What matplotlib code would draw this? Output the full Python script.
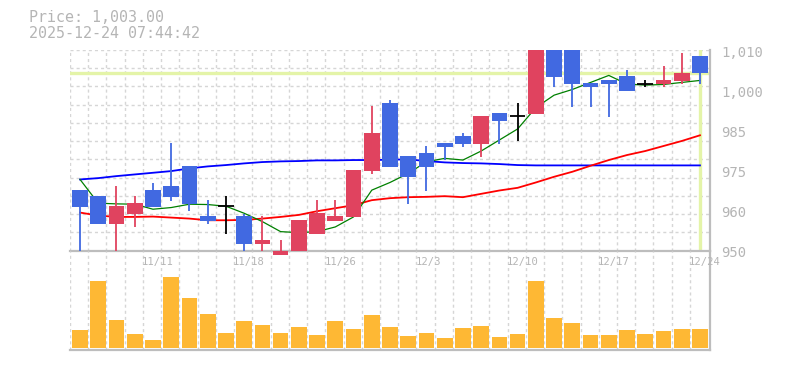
import matplotlib
matplotlib.use("Agg")
import matplotlib.pyplot as plt
import matplotlib.transforms as mtransforms
import numpy as np

# ---------------- data ----------------
dates = ['11/5', '11/6', '11/7', '11/10', '11/11', '11/12', '11/13', '11/14', '11/17', '11/18',
         '11/19', '11/20', '11/21', '11/25', '11/26', '11/27', '11/28', '12/1', '12/2', '12/3',
         '12/4', '12/5', '12/8', '12/9', '12/10', '12/11', '12/12', '12/15', '12/16', '12/17',
         '12/18', '12/19', '12/22', '12/23', '12/24']
opens = [968.1, 966.4, 958.1, 961.1, 968.1, 969.3, 975.3, 960.4, 963.3, 960.4,
         952.1, 948.8, 950.0, 955.1, 959.0, 960.1, 973.8, 994.2, 978.3, 979.2,
         982.2, 984.3, 981.9, 991.2, 990.2, 990.9, 1010.0, 1010.0, 1000.1, 1001.0,
         1002.2, 999.8, 999.8, 1000.7, 1008.2]
highs = [968.1, 966.4, 969.3, 966.4, 970.2, 982.2, 975.3, 965.2, 966.4, 961.1,
         960.4, 953.2, 959.3, 965.2, 965.2, 974.1, 993.3, 995.1, 978.3, 981.3,
         982.2, 985.2, 990.3, 991.2, 994.2, 1010.0, 1010.0, 1010.0, 1000.1, 1001.0,
         1004.0, 1001.0, 1005.2, 1009.1, 1008.2]
lows = [950.0, 958.1, 950.0, 957.2, 963.1, 965.0, 962.0, 958.1, 955.1, 950.0,
        950.0, 948.8, 950.0, 955.1, 959.0, 960.1, 972.9, 975.0, 964.0, 967.8,
        977.1, 981.1, 978.0, 981.9, 982.8, 990.9, 998.9, 993.0, 993.0, 990.0,
        997.7, 998.9, 998.9, 999.8, 999.8]
closes = [963.1, 958.1, 963.4, 964.3, 963.1, 966.1, 964.0, 959.0, 963.3, 952.1,
          953.2, 950.0, 959.3, 961.4, 960.4, 974.1, 985.2, 975.0, 972.0, 975.0,
          981.0, 981.9, 990.3, 988.8, 990.2, 1010.0, 1001.9, 999.8, 998.9, 999.8,
          997.7, 999.8, 1001.0, 1003.1, 1003.0]
ma_short = [971.3, 964.2, 964.0, 963.9, 962.4, 962.9, 963.9, 963.8, 963.3, 961.2,
            958.7, 955.7, 955.4, 955.7, 957.1, 960.1, 968.1, 970.4, 973.1, 976.6,
            977.6, 977.1, 979.8, 983.1, 986.4, 992.8, 996.5, 998.2, 1000.3, 1002.4,
            999.8, 999.5, 999.7, 1000.3, 1000.9]
ma_mid = [961.4, 960.5, 960.1, 960.1, 960.2, 959.9, 959.6, 959.1, 959.1, 959.2,
          959.6, 960.1, 960.7, 961.8, 962.7, 963.6, 965.1, 965.7, 966.0, 966.1,
          966.3, 966.0, 967.0, 968.0, 968.8, 970.4, 972.1, 973.6, 975.4, 977.1,
          978.6, 979.8, 981.3, 982.8, 984.5]
ma_long = [971.3, 971.7, 972.3, 972.8, 973.3, 973.8, 974.6, 975.2, 975.6, 976.1,
           976.5, 976.7, 976.8, 977.0, 977.0, 977.1, 977.1, 977.2, 977.3, 976.8,
           976.4, 976.2, 976.1, 975.9, 975.6, 975.5, 975.5, 975.5, 975.5, 975.5,
           975.5, 975.5, 975.5, 975.5, 975.5]
volumes = [180, 670, 280, 140, 80, 710, 500, 340, 150, 270,
           230, 150, 210, 130, 270, 190, 330, 210, 120, 150,
           100, 200, 220, 110, 140, 670, 300, 250, 130, 130,
           180, 140, 170, 190, 190]
price_now = 1003.0
title_lines = ['Price: 1,003.00', '2025-12-24 07:44:42']
xtick_labels = ['11/11', '11/18', '11/26', '12/3', '12/10', '12/17', '12/24']
ytick_labels = ['1,010', '1,000', '985', '975', '960', '950']

# ---------------- styling ----------------
W, H = 785, 370
UP = '#e0435f'
DOWN = '#4169e1'
GRID = '#d6d6d6'
SPINE = '#bdbdbd'
TXT = '#b5b5b5'
CROSS = '#e4f4a8'
VOL = '#feb834'
MONO = 'DejaVu Sans Mono'

fig = plt.figure(figsize=(W / 100, H / 100), dpi=100)
fig.patch.set_facecolor('white')

def fy(py):
    return 1 - py / H

ax = fig.add_axes([70 / W, fy(250.7), 640 / W, (250.7 - 50) / H])
axv = fig.add_axes([70 / W, fy(350.3), 640 / W, (350.3 - 250.7) / H])
for a in (ax, axv):
    a.set_facecolor('none')
    a.set_xlim(-0.55, 34.55)
    for s in ('top', 'left'):
        a.spines[s].set_visible(False)
    for s in ('bottom', 'right'):
        a.spines[s].set_color(SPINE)
        a.spines[s].set_linewidth(1.6)
    a.set_xticks([])
    a.set_yticks([])
    for gx in np.arange(35) - 0.55:
        a.axvline(gx, color=GRID, lw=1.0, ls=(0, (2.2, 2.2)), zorder=0.5)

ax.set_ylim(950, 1010)
axv.set_ylim(-20, 976)
for gy in np.linspace(950, 1010, 12)[1:]:
    ax.axhline(gy, color=GRID, lw=1.0, ls=(0, (2.2, 2.2)), zorder=0.5)

n = len(dates)
x = np.arange(n)

# crosshair at current price / last bar
ax.axhline(price_now, color=CROSS, lw=2.4, zorder=1)
ax.axvline(x[-1], color=CROSS, lw=2.4, zorder=1)

# moving averages
ax.plot(x, ma_long, color='#0000ff', lw=1.3, zorder=2)
ax.plot(x, ma_mid, color='#ff0000', lw=1.3, zorder=2)
ax.plot(x, ma_short, color='#008000', lw=0.9, zorder=2)

# candles
bw = 0.86
for i in range(n):
    o, h, l, c = opens[i], highs[i], lows[i], closes[i]
    if c > o:
        col = UP
    elif c < o:
        col = DOWN
    else:
        col = 'black'
    ax.vlines(x[i], l, h, color=col, lw=1.3, zorder=3, clip_on=False)
    if c == o:
        ax.hlines(o, x[i] - bw / 2, x[i] + bw / 2, color='black', lw=1.3, zorder=3)
    else:
        ax.bar(x[i], abs(c - o), bottom=min(o, c), width=bw, color=col,
               linewidth=0, zorder=3, clip_on=False)

# volume
axv.bar(x, volumes, width=bw, color=VOL, linewidth=0, zorder=2)

# y labels (right side)
ypos = np.linspace(1009.0, 949.4, len(ytick_labels))
trans = mtransforms.blended_transform_factory(ax.transAxes, ax.transData)
for yp, lab in zip(ypos, ytick_labels):
    ax.text(1.0 + 11 / 640, yp, lab, transform=trans, ha='left', va='center',
            fontsize=10, color=TXT, family=MONO, clip_on=False)

# x labels
tick_idx = [dates.index(d) for d in xtick_labels]
transv = mtransforms.blended_transform_factory(axv.transData, axv.transAxes)
for ti, lab in zip(tick_idx, xtick_labels):
    axv.text(ti - 0.6, (350.3 - 261.7) / 99.6, lab, transform=transv, ha='left',
             va='center', fontsize=7.6, color=TXT, family=MONO, clip_on=False)

# header texts
fig.text(29 / W, fy(17), title_lines[0], ha='left', va='center', fontsize=10.8,
         color=TXT, family=MONO)
fig.text(29 / W, fy(33), title_lines[1], ha='left', va='center', fontsize=10.8,
         color=TXT, family=MONO)

fig.savefig('out.png', dpi=100, facecolor='white')
